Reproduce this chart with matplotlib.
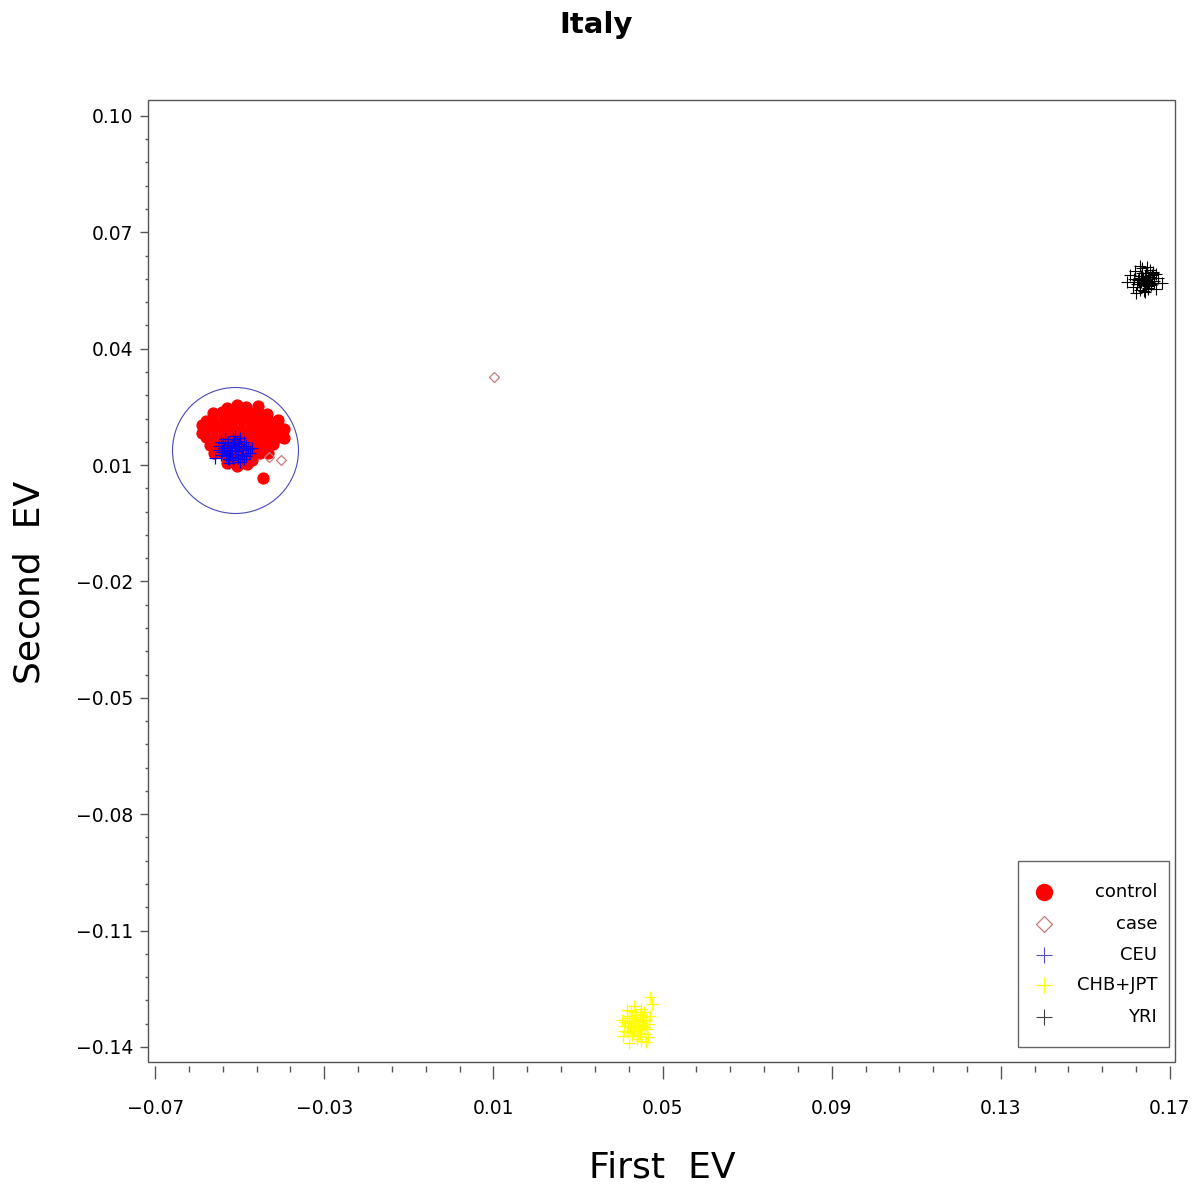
import matplotlib
matplotlib.use("Agg")
import matplotlib.pyplot as plt
import numpy as np
from matplotlib.patches import Rectangle
from matplotlib.ticker import FixedLocator

plt.rcParams['font.family'] = ['DejaVu Sans']

# ---------------- data ----------------
control_x = [-0.0506, -0.0457, -0.0530, -0.0485,
             -0.0563, -0.0542, -0.0520, -0.0499, -0.0478, -0.0456, -0.0435,
             -0.0579, -0.0558, -0.0537, -0.0516, -0.0494, -0.0473, -0.0452, -0.0431, -0.0409,
             -0.0588, -0.0582, -0.0561, -0.0539, -0.0518, -0.0497, -0.0475, -0.0454, -0.0433, -0.0412, -0.0395,
             -0.0590, -0.0579, -0.0558, -0.0537, -0.0516, -0.0494, -0.0473, -0.0452, -0.0431, -0.0409, -0.0395,
             -0.0570, -0.0549, -0.0527, -0.0485, -0.0464, -0.0442, -0.0421,
             -0.0561, -0.0539, -0.0504, -0.0475, -0.0452, -0.0433,
             -0.0523, -0.0494, -0.0471,
             -0.0506, -0.0482, -0.0530,
             -0.0445]
control_y = [0.0255, 0.0253, 0.0248, 0.0249,
             0.0233, 0.0236, 0.0234, 0.0237, 0.0233, 0.0235, 0.0232,
             0.0214, 0.0212, 0.0215, 0.0213, 0.0216, 0.0213, 0.0214, 0.0212, 0.0215,
             0.0203, 0.0193, 0.0195, 0.0192, 0.0194, 0.0191, 0.0194, 0.0193, 0.0195, 0.0192, 0.0194,
             0.0182, 0.0173, 0.0171, 0.0174, 0.0172, 0.0173, 0.0171, 0.0174, 0.0172, 0.0173, 0.0171,
             0.0152, 0.0150, 0.0153, 0.0151, 0.0152, 0.0150, 0.0153,
             0.0131, 0.0132, 0.0130, 0.0131, 0.0132, 0.0130,
             0.0111, 0.0110, 0.0112,
             0.0097, 0.0102, 0.0104,
             0.0067]

case_x = [0.0101, -0.0430, -0.0402]
case_y = [0.0327, 0.0121, 0.0113]

ceu_x = [-0.0518, -0.0510, -0.0525, -0.0505, -0.0530, -0.0514, -0.0522, -0.0498, -0.0536,
         -0.0509, -0.0527, -0.0502, -0.0541, -0.0492, -0.0516, -0.0519, -0.0486, -0.0548,
         -0.0504, -0.0533, -0.0495, -0.0512, -0.0521, -0.0507, -0.0540, -0.0480, -0.0528,
         -0.0558, -0.0500, -0.0515, -0.0484, -0.0545, -0.0490, -0.0520, -0.0511, -0.0476,
         -0.0535, -0.0550, -0.0490, -0.0525, -0.0500, -0.0470, -0.0545, -0.0512, -0.0530,
         -0.0505, -0.0518]
ceu_y = [0.0144, 0.0150, 0.0139, 0.0136, 0.0152, 0.0158, 0.0128, 0.0145, 0.0143,
         0.0129, 0.0160, 0.0155, 0.0133, 0.0138, 0.0166, 0.0121, 0.0150, 0.0149,
         0.0118, 0.0124, 0.0127, 0.0140, 0.0147, 0.0162, 0.0157, 0.0141, 0.0116,
         0.0117, 0.0170, 0.0112, 0.0124, 0.0126, 0.0160, 0.0135, 0.0147, 0.0132,
         0.0168, 0.0140, 0.0115, 0.0105, 0.0108, 0.0145, 0.0160, 0.0175, 0.0130,
         0.0150, 0.0152]

chb_x = [0.0437, 0.0430, 0.0445, 0.0425, 0.0450, 0.0440, 0.0418, 0.0433, 0.0455,
         0.0428, 0.0447, 0.0412, 0.0460, 0.0422, 0.0438, 0.0443, 0.0432, 0.0452,
         0.0415, 0.0464, 0.0427, 0.0441, 0.0409, 0.0458, 0.0435, 0.0470, 0.0449,
         0.0420, 0.0406, 0.0466, 0.0436, 0.0444, 0.0429, 0.0451,
         0.0420, 0.0448, 0.0433, 0.0456, 0.0415, 0.0462, 0.0439, 0.0426, 0.0410,
         0.0468, 0.0403, 0.0471, 0.0434, 0.0442, 0.0424, 0.0453, 0.0446, 0.0431,
         0.0417, 0.0459, 0.0476]
chb_y = [-0.1343, -0.1350, -0.1336, -0.1338, -0.1352, -0.1328, -0.1347, -0.1360, -0.1340,
         -0.1325, -0.1365, -0.1335, -0.1330, -0.1358, -0.1318, -0.1348, -0.1333, -0.1322,
         -0.1362, -0.1355, -0.1370, -0.1372, -0.1345, -0.1368, -0.1310, -0.1271, -0.1302,
         -0.1320, -0.1373, -0.1375, -0.1352, -0.1340, -0.1345, -0.1345,
         -0.1390, -0.1385, -0.1295, -0.1310, -0.1305, -0.1388, -0.1380, -0.1308, -0.1360,
         -0.1340, -0.1330, -0.1320, -0.1335, -0.1357, -0.1348, -0.1330, -0.1315, -0.1365,
         -0.1325, -0.1350, -0.1290]

yri_x = [0.1598, 0.1605, 0.1612, 0.1618, 0.1622, 0.1626, 0.1630, 0.1633, 0.1636, 0.1638,
         0.1640, 0.1642, 0.1644, 0.1646, 0.1648, 0.1650, 0.1652, 0.1655, 0.1658, 0.1662,
         0.1666, 0.1672, 0.1680, 0.1620, 0.1628, 0.1635, 0.1641, 0.1647, 0.1653, 0.1660,
         0.1632, 0.1639, 0.1645, 0.1651, 0.1625, 0.1668, 0.1643, 0.1637, 0.1649, 0.1634,
         0.1636, 0.1644, 0.1640, 0.1648, 0.1631, 0.1654, 0.1627, 0.1659, 0.1615, 0.1663]
yri_y = [0.0573, 0.0591, 0.0560, 0.0600, 0.0567, 0.0583, 0.0551, 0.0607, 0.0576, 0.0564,
         0.0587, 0.0546, 0.0596, 0.0571, 0.0556, 0.0580, 0.0603, 0.0565, 0.0589, 0.0574,
         0.0555, 0.0582, 0.0569, 0.0544, 0.0614, 0.0594, 0.0578, 0.0562, 0.0585, 0.0598,
         0.0571, 0.0549, 0.0610, 0.0573, 0.0578, 0.0592, 0.0565, 0.0582, 0.0553, 0.0587,
         0.0580, 0.0575, 0.0570, 0.0585, 0.0588, 0.0566, 0.0572, 0.0595, 0.0580, 0.0570]

circle_center = (-0.0511, 0.0139)

xticks = [-0.07, -0.03, 0.01, 0.05, 0.09, 0.13, 0.17]
xtick_labels = ['\u22120.07', '\u22120.03', '0.01', '0.05', '0.09', '0.13', '0.17']
yticks = [-0.14, -0.11, -0.08, -0.05, -0.02, 0.01, 0.04, 0.07, 0.10]
ytick_labels = ['\u22120.14', '\u22120.11', '\u22120.08', '\u22120.05', '\u22120.02',
                '0.01', '0.04', '0.07', '0.10']

legend_labels = ['control', 'case', 'CEU', 'CHB+JPT', 'YRI']

# ---------------- figure ----------------
fig = plt.figure(figsize=(11.95, 11.91), dpi=100)
ax = fig.add_axes([0.1238, 0.1083, 0.8595, 0.8077])

ax.set_xlim(-0.0717, 0.1712)
ax.set_ylim(-0.1439, 0.1041)

ax.plot(control_x, control_y, 'o', ms=7.8, color='#ff0000', mec='#ff0000', ls='none', zorder=3)
ax.plot(case_x, case_y, 'D', ms=5.5, mfc='none', mec='#c87a7a', mew=0.9, ls='none', zorder=4)
ax.plot(ceu_x, ceu_y, '+', ms=9, color='#0000ff', mew=0.9, ls='none', zorder=5)
ax.plot(chb_x, chb_y, '+', ms=9, color='#ffff00', mew=0.9, ls='none', zorder=5)
ax.plot(yri_x, yri_y, '+', ms=9, color='#000000', mew=0.8, ls='none', zorder=5)

# enclosing circle (drawn in screen space)
ax.plot([circle_center[0]], [circle_center[1]], 'o', ms=90.7, mfc='none',
        mec='#4a4ab8', mew=0.8, zorder=2)

# axes styling
for s in ax.spines.values():
    s.set_color('none')
ax.spines['bottom'].set_position(('outward', 3))
ax.add_patch(Rectangle((0, 0), 1, 1, transform=ax.transAxes, fill=False,
                       edgecolor='#555555', lw=1.0, clip_on=False, zorder=10))

ax.xaxis.set_major_locator(FixedLocator(xticks))
ax.set_xticklabels(xtick_labels)
ax.xaxis.set_minor_locator(FixedLocator(np.linspace(xticks[0], xticks[-1], 31)))
ax.yaxis.set_major_locator(FixedLocator(yticks))
ax.set_yticklabels(ytick_labels)
ax.yaxis.set_minor_locator(FixedLocator(np.linspace(yticks[0], yticks[-1], 41)))

ax.tick_params(axis='x', which='major', direction='out', length=9.5, width=1.0,
               color='#555555', pad=14, labelsize=13.5)
ax.tick_params(axis='x', which='minor', direction='out', length=4.5, width=1.0,
               color='#555555')
ax.tick_params(axis='y', which='major', direction='out', length=5.5, width=1.0,
               color='#555555', pad=5, labelsize=13.5)
ax.tick_params(axis='y', which='minor', direction='out', length=2.5, width=1.0,
               color='#555555')

# titles / labels
fig.text(596 / 1195, 1 - 25 / 1191, 'Italy', ha='center', va='center',
         fontsize=21, fontweight='bold')
fig.text(662 / 1195, 1 - 1168 / 1191, 'First  EV', ha='center', va='center', fontsize=26)
fig.text(30 / 1195, 1 - 582 / 1191, 'Second  EV', ha='center', va='center',
         fontsize=26, rotation=90)

# legend (manual, labels right-aligned)
ax.add_patch(Rectangle((0.847, 0.0156), 0.994 - 0.847, 0.209 - 0.0156, transform=ax.transAxes,
                       fill=True, facecolor='white', edgecolor='#666666', lw=1.0, zorder=11))
leg_y = [0.1767, 0.1435, 0.1112, 0.0800, 0.0468]
styles = [dict(marker='o', ms=11.5, color='#ff0000', mec='#ff0000'),
          dict(marker='D', ms=8, mfc='none', mec='#c87a7a', mew=0.9),
          dict(marker='+', ms=12, color='#5050c0', mew=0.8),
          dict(marker='+', ms=12, color='#ffff00', mew=0.8),
          dict(marker='+', ms=12, color='#404040', mew=0.8)]
for lab, yy, st in zip(legend_labels, leg_y, styles):
    ax.plot([0.8725], [yy], ls='none', transform=ax.transAxes, zorder=12, clip_on=False, **st)
    ax.text(0.9825, yy, lab, transform=ax.transAxes, ha='right', va='center',
            fontsize=13, zorder=12)

fig.savefig('out.png', dpi=100)
